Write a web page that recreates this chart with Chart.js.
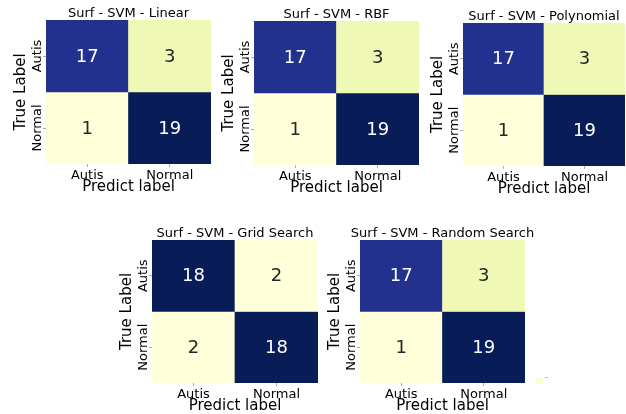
<!DOCTYPE html>
<html>
<head>
<meta charset="utf-8">
<script src="https://cdn.jsdelivr.net/npm/chart.js@4/dist/chart.umd.min.js"></script>
<style>
  html, body { margin: 0; padding: 0; background: #fff; width: 626px; height: 414px; overflow: hidden; }
  .panel { position: absolute; }
  .panel canvas { display: block; }
  #cbar { position: absolute; left: 536px; top: 377px; width: 7px; height: 7px; background: #fcfdd3; }
  #cbarTick { position: absolute; left: 545px; top: 377px; width: 3px; height: 1px; background: #bbb; }
</style>
</head>
<body>
<div id="cbar"></div>
<div id="cbarTick"></div>
<script>
// Class names shared by all confusion matrices
const trueLabels = ['Autis', 'Normal'];
const predLabels = ['Autis', 'Normal'];

// Panel titles
const titleLinear = 'Surf - SVM - Linear';
const titleRbf = 'Surf - SVM - RBF';
const titlePoly = 'Surf - SVM - Polynomial';
const titleGrid = 'Surf - SVM - Grid Search';
const titleRandom = 'Surf - SVM - Random Search';

// Confusion matrices, rows = true class, columns = predicted class
const cmLinear = [[17, 3], [1, 19]];
const cmRbf = [[17, 3], [1, 19]];
const cmPoly = [[17, 3], [1, 19]];
const cmGrid = [[18, 2], [2, 18]];
const cmRandom = [[17, 3], [1, 19]];

// Axis titles
const xTitle = 'Predict label';
const yTitle = 'True Label';

// Canvas placement on the page (plot area left/top/right/bottom)
const panels = [
  { id: 'linear', title: titleLinear, cm: cmLinear, area: [46, 20, 211, 164] },
  { id: 'rbf', title: titleRbf, cm: cmRbf, area: [254, 21, 419, 165] },
  { id: 'poly', title: titlePoly, cm: cmPoly, area: [463, 23, 625, 166] },
  { id: 'grid', title: titleGrid, cm: cmGrid, area: [152, 240, 318, 383] },
  { id: 'random', title: titleRandom, cm: cmRandom, area: [360, 240, 525, 383] }
];

const Y_AXIS_W = 46;
const TOP_PAD = 20;
const X_AXIS_H = 35;
const RIGHT_PAD = 24;
const FONT = 'DejaVu Sans';

// YlGnBu colour ramp
const ylgnbu = [
  [255, 255, 217], [237, 248, 177], [199, 233, 180], [127, 205, 187],
  [65, 182, 196], [29, 145, 192], [34, 94, 168], [37, 52, 148], [8, 29, 88]
];
function rampColor(t) {
  t = Math.max(0, Math.min(1, t));
  const pos = t * (ylgnbu.length - 1);
  const i = Math.min(Math.floor(pos), ylgnbu.length - 2);
  const f = pos - i;
  const a = ylgnbu[i], b = ylgnbu[i + 1];
  return a.map((c, k) => Math.round(c + (b[k] - c) * f));
}
function luminance(rgb) {
  const lin = rgb.map(c => {
    c /= 255;
    return c <= 0.03928 ? c / 12.92 : Math.pow((c + 0.055) / 1.055, 2.4);
  });
  return 0.2126 * lin[0] + 0.7152 * lin[1] + 0.0722 * lin[2];
}

// Draws the count inside each cell and the panel title
const cellText = {
  id: 'cellText',
  afterDatasetsDraw(chart, args, opts) {
    const ctx = chart.ctx;
    ctx.save();
    ctx.font = '18px "' + FONT + '"';
    ctx.textAlign = 'center';
    ctx.textBaseline = 'middle';
    chart.data.datasets.forEach((ds, i) => {
      const meta = chart.getDatasetMeta(i);
      meta.data.forEach((bar, j) => {
        const v = opts.cm[i][j];
        const rgb = ds.cellRgb[j];
        ctx.fillStyle = luminance(rgb) > 0.408 ? '#262626' : '#ffffff';
        ctx.fillText(String(v), bar.x, (bar.y + bar.base) / 2 + 1);
      });
    });
    const area = chart.chartArea;
    ctx.font = '13px "' + FONT + '"';
    ctx.fillStyle = '#000';
    ctx.textBaseline = 'alphabetic';
    ctx.fillText(opts.title, (area.left + area.right) / 2, area.top - 3);
    ctx.restore();
  }
};

panels.forEach(p => {
  const [L, T, R, B] = p.area;
  const w = Y_AXIS_W + (R - L) + RIGHT_PAD;
  const h = TOP_PAD + (B - T) + X_AXIS_H;
  const div = document.createElement('div');
  div.className = 'panel';
  div.style.left = (L - Y_AXIS_W) + 'px';
  div.style.top = (T - TOP_PAD) + 'px';
  div.style.width = w + 'px';
  div.style.height = h + 'px';
  const canvas = document.createElement('canvas');
  canvas.id = 'cm-' + p.id;
  canvas.width = w;
  canvas.height = h;
  canvas.style.width = w + 'px';
  canvas.style.height = h + 'px';
  div.appendChild(canvas);
  document.body.appendChild(div);

  const flat = p.cm.flat();
  const vmin = Math.min(...flat), vmax = Math.max(...flat);

  const datasets = trueLabels.map((name, i) => {
    const rgbs = p.cm[i].map(v => rampColor((v - vmin) / (vmax - vmin)));
    return {
      label: name,
      data: predLabels.map(() => [i, i + 1]),
      cellRgb: rgbs,
      backgroundColor: rgbs.map(c => 'rgb(' + c.join(',') + ')'),
      borderWidth: 0,
      barPercentage: 1,
      categoryPercentage: 1,
      grouped: false
    };
  });

  new Chart(canvas, {
    type: 'bar',
    data: { labels: predLabels, datasets },
    options: {
      responsive: false,
      animation: false,
      devicePixelRatio: 1,
      layout: { padding: { left: 0, right: RIGHT_PAD, top: TOP_PAD, bottom: 0 } },
      plugins: {
        legend: { display: false },
        tooltip: { enabled: false },
        cellText: { cm: p.cm, title: p.title }
      },
      scales: {
        x: {
          type: 'category',
          offset: true,
          border: { display: false },
          grid: { offset: false, drawOnChartArea: false, drawTicks: true, tickLength: 3, color: '#999', lineWidth: 0.8 },
          ticks: { font: { family: FONT, size: 13 }, color: '#000', padding: 1, maxRotation: 0 },
          title: { display: true, text: xTitle, font: { family: FONT, size: 15 }, color: '#000', padding: 3 },
          afterFit: s => { s.height = X_AXIS_H; }
        },
        y: {
          type: 'linear',
          min: 0,
          max: trueLabels.length,
          reverse: true,
          afterBuildTicks: s => { s.ticks = trueLabels.map((_, i) => ({ value: i + 0.5 })); },
          border: { display: false },
          grid: { drawOnChartArea: false, drawTicks: true, tickLength: 3, color: '#999', lineWidth: 0.8 },
          ticks: {
            callback: v => trueLabels[Math.floor(v)],
            font: { family: FONT, size: 13 },
            color: '#000',
            minRotation: 90,
            maxRotation: 90,
            crossAlign: 'center',
            padding: -18
          },
          title: { display: true, text: yTitle, font: { family: FONT, size: 15 }, color: '#000', padding: 12 },
          afterFit: s => { s.width = Y_AXIS_W; }
        }
      }
    },
    plugins: [cellText]
  });
});
</script>
</body>
</html>
